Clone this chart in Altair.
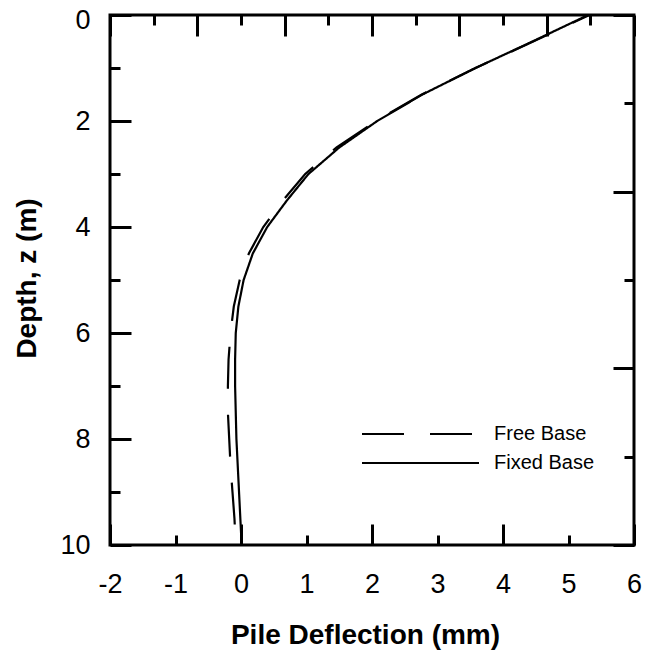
import altair as alt
import pandas as pd

# ---- data ----
depth = [0.0, 0.5, 1.0, 1.5, 2.0, 2.5, 3.0, 3.5, 4.0, 4.5, 5.0,
         5.5, 6.0, 6.5, 7.0, 7.5, 8.0, 8.5, 9.0, 9.5, 10.0]
free_base = [5.32, 4.46, 3.58, 2.76, 2.06, 1.46, 0.98, 0.64, 0.34, 0.12, -0.02,
             -0.11, -0.16, -0.19, -0.20, -0.20, -0.18, -0.16, -0.13, -0.10, -0.08]
fixed_base = [5.30, 4.45, 3.58, 2.77, 2.08, 1.50, 1.03, 0.70, 0.40, 0.18, 0.04,
              -0.04, -0.08, -0.09, -0.09, -0.08, -0.07, -0.05, -0.03, -0.01, 0.01]
series_names = ["Free Base", "Fixed Base"]

x_ticks = [-2, -1, 0, 1, 2, 3, 4, 5, 6]
y_ticks = [0, 1, 2, 3, 4, 5, 6, 7, 8, 9, 10]
top_ticks = list(range(0, 13))
right_ticks = list(range(0, 7))

rows = []
for name, vals in zip(series_names, [free_base, fixed_base]):
    for z, v in zip(depth, vals):
        rows.append({"depth": z, "deflection": v, "case": name})
df = pd.DataFrame(rows)
top_df = pd.DataFrame({"t": top_ticks})
right_df = pd.DataFrame({"r": right_ticks})

FONT = "Liberation Sans"
MAJOR = "datum.value % 2 === 0"
tick_dash = {"condition": {"test": MAJOR, "value": []}, "value": [0, 11, 10, 100]}

common_tick = dict(offset=-21, tickSize=21, tickWidth=3, tickColor="black",
                   tickDash=tick_dash, domain=False, grid=False)

x_axis = alt.Axis(orient="bottom", values=x_ticks, labelExpr="'' + datum.value",
                  labelFont=FONT, labelFontSize=27, labelColor="black",
                  labelPadding=26, labelFlush=False,
                  title="Pile Deflection (mm)", titleFont=FONT, titleFontSize=28,
                  titleFontWeight="bold", titleColor="black",
                  titleX=255, titleY=119, titleBaseline="alphabetic", titleAlign="center",
                  **common_tick)
y_axis = alt.Axis(orient="left", values=y_ticks,
                  labelExpr="datum.value % 2 === 0 ? '' + datum.value : ''",
                  labelFont=FONT, labelFontSize=27, labelColor="black",
                  labelPadding=20, labelFlush=False,
                  labelOffset={"condition": {"test": "datum.value === 0", "value": 5}, "value": 0},
                  title="Depth, z (m)", titleFont=FONT, titleFontSize=28,
                  titleFontWeight="bold", titleColor="black",
                  titleX=-104, titleY=263, titleBaseline="middle", titleAlign="center",
                  titleAngle=270,
                  **common_tick)

lines = alt.Chart(df).mark_line(strokeWidth=2.2, color="black", strokeDashOffset=23.5).encode(
    x=alt.X("deflection:Q", scale=alt.Scale(domain=[-2, 6], nice=False, zero=False), axis=x_axis),
    y=alt.Y("depth:Q", scale=alt.Scale(domain=[0, 10], reverse=True, nice=False, zero=False), axis=y_axis),
    strokeDash=alt.StrokeDash(
        "case:N",
        scale=alt.Scale(domain=series_names, range=[[42, 26], [1, 0]]),
        legend=alt.Legend(title=None, orient="none", legendX=251, legendY=409,
                          symbolType="stroke", symbolSize=13689, symbolStrokeWidth=2,
                          symbolStrokeColor="black", labelFont=FONT, labelFontSize=20,
                          labelColor="black", labelOffset=14, clipHeight=20,
                          rowPadding=9, padding=0),
    ),
    order=alt.Order("depth:Q"),
)

top_layer = alt.Chart(top_df).mark_point(opacity=0).encode(
    x=alt.X("t:Q", scale=alt.Scale(domain=[0, 12], nice=False, zero=False),
            axis=alt.Axis(orient="top", values=top_ticks, labels=False, title=None, **common_tick)),
)
right_layer = alt.Chart(right_df).mark_point(opacity=0).encode(
    y=alt.Y("r:Q", scale=alt.Scale(domain=[0, 6], nice=False, zero=False),
            axis=alt.Axis(orient="right", values=right_ticks, labels=False, title=None, **common_tick)),
)

chart = alt.layer(lines, top_layer, right_layer).resolve_scale(
    x="independent", y="independent"
).resolve_axis(
    x="independent", y="independent"
).properties(
    width=524, height=530,
    autosize=alt.AutoSizeParams(type="none"),
    padding={"left": 102, "top": 7, "right": 11, "bottom": 110},
    background="white",
).configure_view(stroke="black", strokeWidth=3)

chart.save("out.html", embed_options={"renderer": "svg", "actions": False})
